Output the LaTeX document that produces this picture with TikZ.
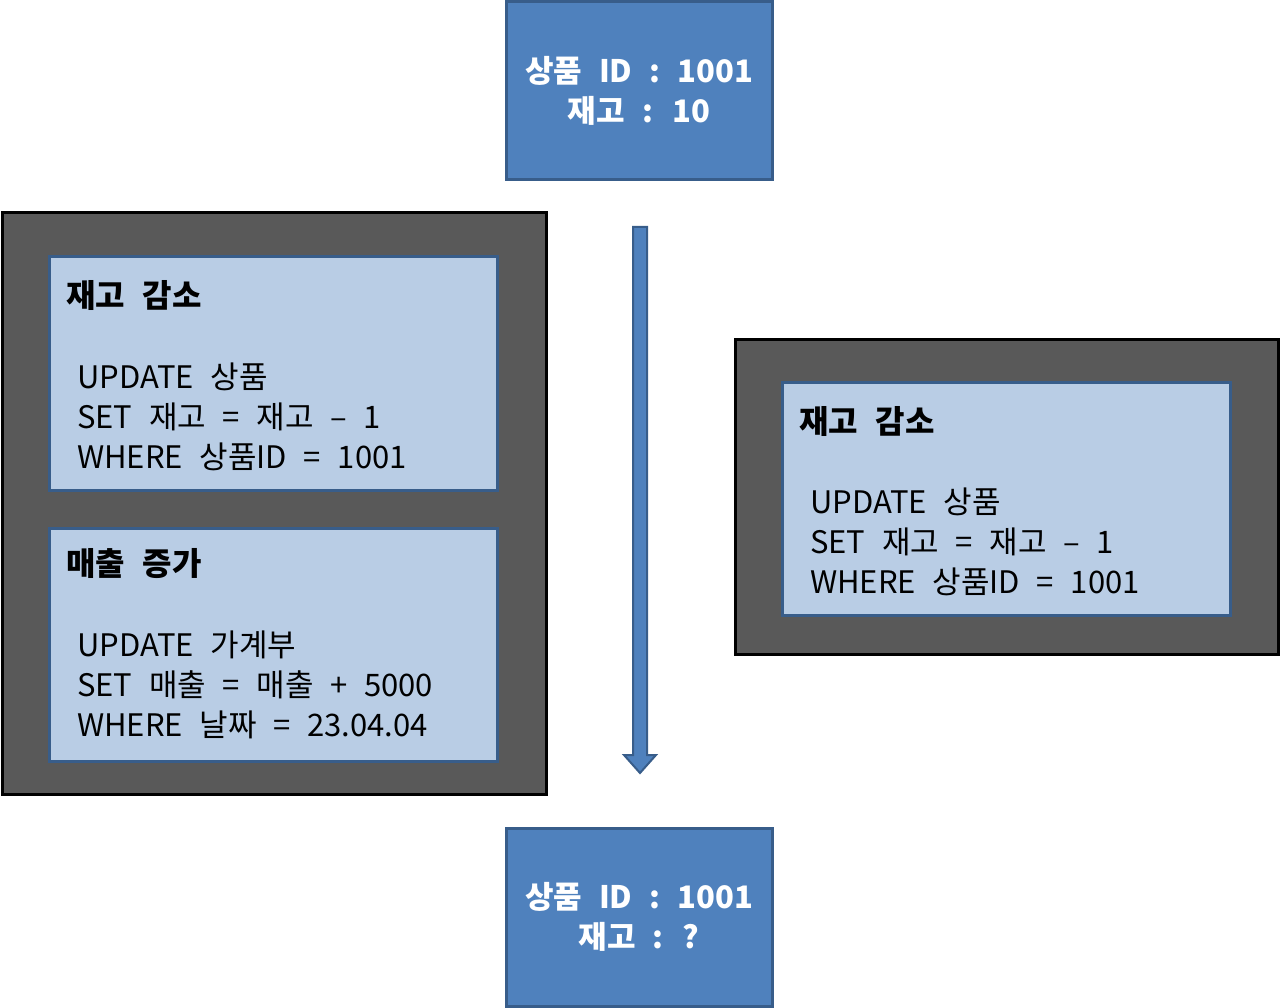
\documentclass[tikz,border=0pt]{standalone}
\usepackage{fontspec}
\setmainfont{Noto Sans CJK KR}[WordSpace=2.4]
\usepackage{tikz}
\definecolor{rowblue}{HTML}{4F81BD}
\definecolor{rowline}{HTML}{385D8A}
\definecolor{txfill}{HTML}{B9CDE5}
\definecolor{txgray}{HTML}{595959}

\begin{document}
\begin{tikzpicture}[x=1pt,y=-1pt,
  rowbox/.style={draw=rowline,line width=3pt,fill=rowblue,minimum width=266pt,minimum height=178pt,
    text=white,font=\fontsize{31}{40}\selectfont\bfseries,align=center},
  txouter/.style={draw=black,line width=3pt,fill=txgray},
  txbox/.style={draw=rowline,line width=3pt,fill=txfill,minimum width=448pt,minimum height=233pt},
  txtitle/.style={anchor=west,inner sep=0pt,font=\fontsize{32}{40}\selectfont\bfseries},
  txbody/.style={anchor=west,inner sep=0pt,align=left,font=\fontsize{31}{40}\selectfont},
  flowarrow/.style={draw=rowline,line width=2pt,fill=rowblue,line join=miter}]
\useasboundingbox (0,0) rectangle (1280,1008);
% rows before and after
\node[rowbox] (before) at (639,91) {상품 ID : 1001\\재고 : 10};
\node[rowbox] (after) at (639,917) {상품 ID : 1001\\재고 : ?};
% transaction 1
\node[txouter,minimum width=544pt,minimum height=581pt] (tx1) at (274,503.5) {};
\node[txbox] (tx1a) at (273,373.5) {};
\node[txbox] (tx1b) at (273,644.5) {};
\node[txtitle] (tx1at) at (66,296) {재고 감소};
\node[txbody] (tx1ab) at (77,417) {UPDATE 상품\\SET 재고 = 재고 – 1\\WHERE 상품ID = 1001};
\node[txtitle] (tx1bt) at (66,564) {매출 증가};
\node[txbody] (tx1bb) at (77,685) {UPDATE 가계부\\SET 매출 = 매출 + 5000\\WHERE 날짜 = 23.04.04};
% transaction 2
\node[txouter,minimum width=543pt,minimum height=314pt] (tx2) at (1006.5,497) {};
\node[txbox] (tx2a) at (1006,498.5) {};
\node[txtitle] (tx2at) at (799,421) {재고 감소};
\node[txbody] (tx2ab) at (810,542) {UPDATE 상품\\SET 재고 = 재고 – 1\\WHERE 상품ID = 1001};
% time
\coordinate (flowtop) at (640,227);
\draw[flowarrow] (flowtop) ++(-7,0) -- ++(0,528) -- ++(-9,0) -- ++(16,18) -- ++(16,-18)
  -- ++(-9,0) -- ++(0,-528) -- cycle;
\end{tikzpicture}
\end{document}
